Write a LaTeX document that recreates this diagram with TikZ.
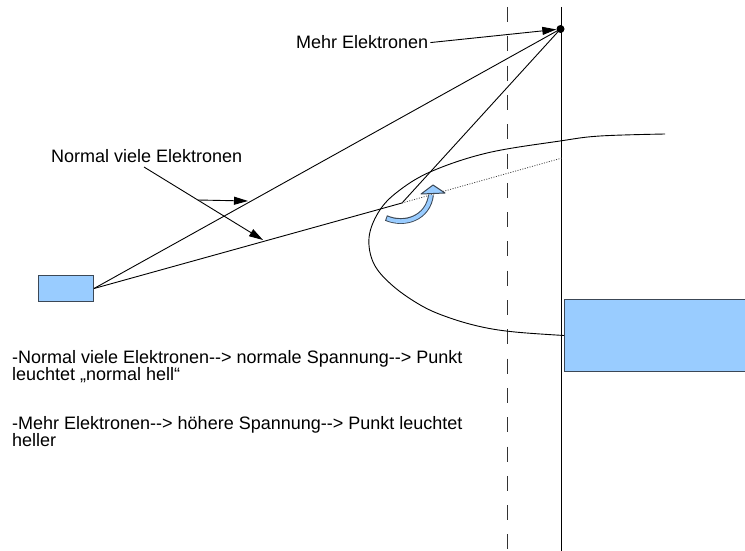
\documentclass[tikz,border=0pt]{standalone}
\usepackage{fontspec}
\setmainfont{Liberation Sans}
\usetikzlibrary{arrows.meta}
\definecolor{boxfill}{HTML}{99CCFF}
\definecolor{boxline}{HTML}{3C4856}
\newcommand{\darr}{-\kern0pt->}
\begin{document}
\begin{tikzpicture}[x=1pt,y=-1pt, font=\fontsize{18}{20}\selectfont,
  ray/.style={line width=0.9pt},
  lbl/.style={inner sep=0pt, anchor=base west},
  tip/.style={-{Triangle[length=14pt,width=8pt]}, line width=0.9pt},
  bluebox/.style={draw=boxline, fill=boxfill, line width=1pt, inner sep=0pt}]
\useasboundingbox (0,0) rectangle (745,551);
\clip (0,0) rectangle (745,551);
% dashed line
\coordinate (dtop) at (507,7);
\coordinate (dbot) at (507,551);
\draw[line width=0.9pt, dash pattern=on 15pt off 14.3pt, black!80] (dtop) -- (dbot);
% screen line
\coordinate (stop) at (561,7);
\coordinate (sbot) at (561,551);
\draw[line width=1pt] (stop) -- (sbot);
% boxes
\node[bluebox, minimum width=186pt, minimum height=72pt, anchor=north west] (scr) at (564,299) {};
\node[bluebox, minimum width=55pt, minimum height=26pt, anchor=north west] (src) at (38,275) {};
% dot
\node[circle, fill, inner sep=0pt, minimum size=8pt] (dot) at (560.5,29) {};
% rays
\coordinate (refl) at (402,203);
\coordinate (dend) at (562,158);
\draw[ray] (src.east) -- (dot.center);
\draw[ray] (src.east) -- (refl) -- (dot.center);
\draw[dash pattern=on 1pt off 1.5pt, line width=0.8pt, black!75] (refl) -- (dend);
% curve
\draw[line width=0.9pt] plot[smooth, tension=0.6] coordinates {(665,134) (600,136) (560,141) (487,153) (430,172) (396,193) (378,213) (369,238) (374,264) (393,286) (422,306) (450,318) (482,327) (515,332) (scr.west)};
% blue curved arrow
\draw[boxline, line width=5.8pt] (386,218) .. controls (405,226) and (428,218) .. (431,195);
\draw[boxfill, line width=3.8pt, shorten <=1pt] (386,218) .. controls (405,226) and (428,218) .. (431,195);
\filldraw[fill=boxfill, draw=boxline, line width=1pt, line join=round] (421,194) -- (433,185) -- (445,193) -- cycle;
% labels
\node[lbl] (mehr) at (296,49) {Mehr Elektronen};
\draw[tip] ([xshift=2pt]mehr.east) -- (dot);
\node[lbl] (normal) at (51,162) {Normal viele Elektronen};
\coordinate (n1s) at (144,167);
\coordinate (n1e) at (263,240);
\coordinate (n2s) at (198,200);
\coordinate (n2e) at (248,201);
\draw[tip] (n1s) -- (n1e);
\draw[tip] (n2s) -- (n2e);
% text block
\node[lbl] (t1) at (12,363) {-Normal viele Elektronen\darr{} normale Spannung\darr{} Punkt};
\node[lbl] (t2) at (12,380) {leuchtet „normal hell“};
\node[lbl] (t3) at (12,429) {-Mehr Elektronen\darr{} höhere Spannung\darr{} Punkt leuchtet};
\node[lbl] (t4) at (12,446) {heller};
\end{tikzpicture}
\end{document}
